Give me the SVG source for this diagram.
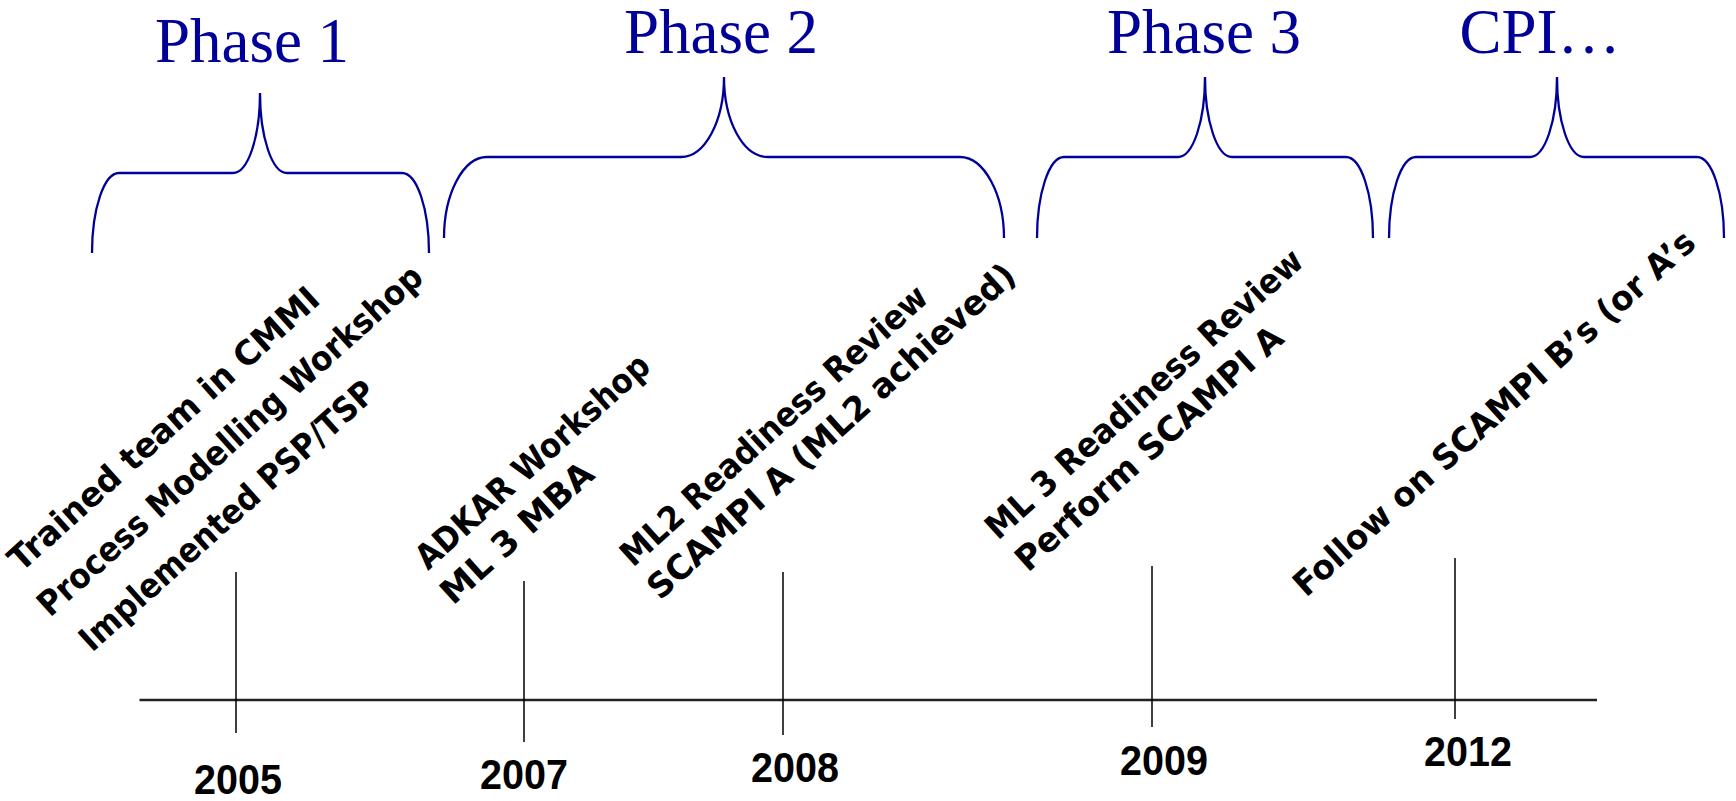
<svg xmlns="http://www.w3.org/2000/svg" width="1736" height="801" viewBox="0 0 1736 801">
  <style>
    .phase { font-family: "Liberation Serif", "Times New Roman", serif; font-size: 63px; fill: #000099; text-anchor: middle; }
    .brace { fill: none; stroke: #000099; stroke-width: 2.3; }
    .note { font-family: "DejaVu Sans", "Liberation Sans", sans-serif; font-weight: bold; font-size: 34px; fill: #000; }
    .year { font-family: "Liberation Sans", Arial, sans-serif; font-weight: bold; font-size: 42px; fill: #000; text-anchor: middle; }
    .tick { stroke: #000; stroke-width: 1.5; }
    .axis { stroke: #222; stroke-width: 2.6; }
  </style>
  <rect width="1736" height="801" fill="#fff"/>

  <!-- phase headings with curly braces -->
  <g id="phase1">
    <text class="phase" x="252" y="62">Phase 1</text>
    <path class="brace" d="M92,253 C92,209 104,173 119,173 L233,173 C248,173 260,137 260,93 C260,137 272,173 287,173 L402,173 C417,173 429,209 429,253"/>
  </g>
  <g id="phase2">
    <text class="phase" x="721" y="53">Phase 2</text>
    <path class="brace" d="M444,238 C444,194 463,157 487,157 L681,157 C705,157 724,121 724,77 C724,121 743,157 768,157 L960,157 C984,157 1004,194 1004,238"/>
  </g>
  <g id="phase3">
    <text class="phase" x="1204" y="53">Phase 3</text>
    <path class="brace" d="M1037,238 C1037,194 1049,157 1064,157 L1178,157 C1193,157 1205,121 1205,77 C1205,121 1217,157 1232,157 L1346,157 C1361,157 1373,194 1373,238"/>
  </g>
  <g id="phase-cpi">
    <text class="phase" x="1540" y="53">CPI…</text>
    <path class="brace" d="M1389,238 C1389,194 1401,157 1416,157 L1530,157 C1545,157 1557,121 1557,77 C1557,121 1569,157 1584,157 L1697,157 C1712,157 1724,194 1724,238"/>
  </g>

  <!-- time axis -->
  <g id="connectors">
    <line class="axis" x1="139.5" y1="700" x2="1597" y2="700"/>
  </g>

  <!-- milestones: tick, year and slanted notes -->
  <g id="m2005">
    <line class="tick" x1="236" y1="572" x2="236" y2="733"/>
    <text class="year" x="238" y="794" textLength="88" lengthAdjust="spacingAndGlyphs">2005</text>
    <text class="note" x="21" y="573" transform="rotate(-42 21 573)" textLength="405" lengthAdjust="spacingAndGlyphs">Trained team in CMMI</text>
    <text class="note" x="50" y="618" transform="rotate(-42 50 618)" textLength="505" lengthAdjust="spacingAndGlyphs">Process Modelling Workshop</text>
    <text class="note" x="92" y="653" transform="rotate(-42 92 653)" textLength="385" lengthAdjust="spacingAndGlyphs">Implemented PSP/TSP</text>
  </g>
  <g id="m2007">
    <line class="tick" x1="524" y1="581" x2="524" y2="742"/>
    <text class="year" x="524" y="789" textLength="88" lengthAdjust="spacingAndGlyphs">2007</text>
    <text class="note" x="428" y="571" transform="rotate(-42 428 571)" textLength="302" lengthAdjust="spacingAndGlyphs">ADKAR Workshop</text>
    <text class="note" x="453" y="606" transform="rotate(-42 453 606)" textLength="193" lengthAdjust="spacingAndGlyphs">ML 3 MBA</text>
  </g>
  <g id="m2008">
    <line class="tick" x1="783" y1="572" x2="783" y2="735"/>
    <text class="year" x="795" y="782" textLength="88" lengthAdjust="spacingAndGlyphs">2008</text>
    <text class="note" x="633" y="568" transform="rotate(-42 633 568)" textLength="400" lengthAdjust="spacingAndGlyphs">ML2 Readiness Review</text>
    <text class="note" x="660" y="601" transform="rotate(-42 660 601)" textLength="482" lengthAdjust="spacingAndGlyphs">SCAMPI A (ML2 achieved)</text>
  </g>
  <g id="m2009">
    <line class="tick" x1="1152" y1="566" x2="1152" y2="727"/>
    <text class="year" x="1164" y="775" textLength="88" lengthAdjust="spacingAndGlyphs">2009</text>
    <text class="note" x="998" y="541" transform="rotate(-42 998 541)" textLength="414" lengthAdjust="spacingAndGlyphs">ML 3 Readiness Review</text>
    <text class="note" x="1028" y="573" transform="rotate(-42 1028 573)" textLength="347" lengthAdjust="spacingAndGlyphs">Perform SCAMPI A</text>
  </g>
  <g id="m2012">
    <line class="tick" x1="1455" y1="558" x2="1455" y2="719"/>
    <text class="year" x="1468" y="766" textLength="88" lengthAdjust="spacingAndGlyphs">2012</text>
    <text class="note" x="1306" y="598" transform="rotate(-42 1306 598)" textLength="527" lengthAdjust="spacingAndGlyphs">Follow on SCAMPI B’s (or A’s</text>
  </g>
</svg>
